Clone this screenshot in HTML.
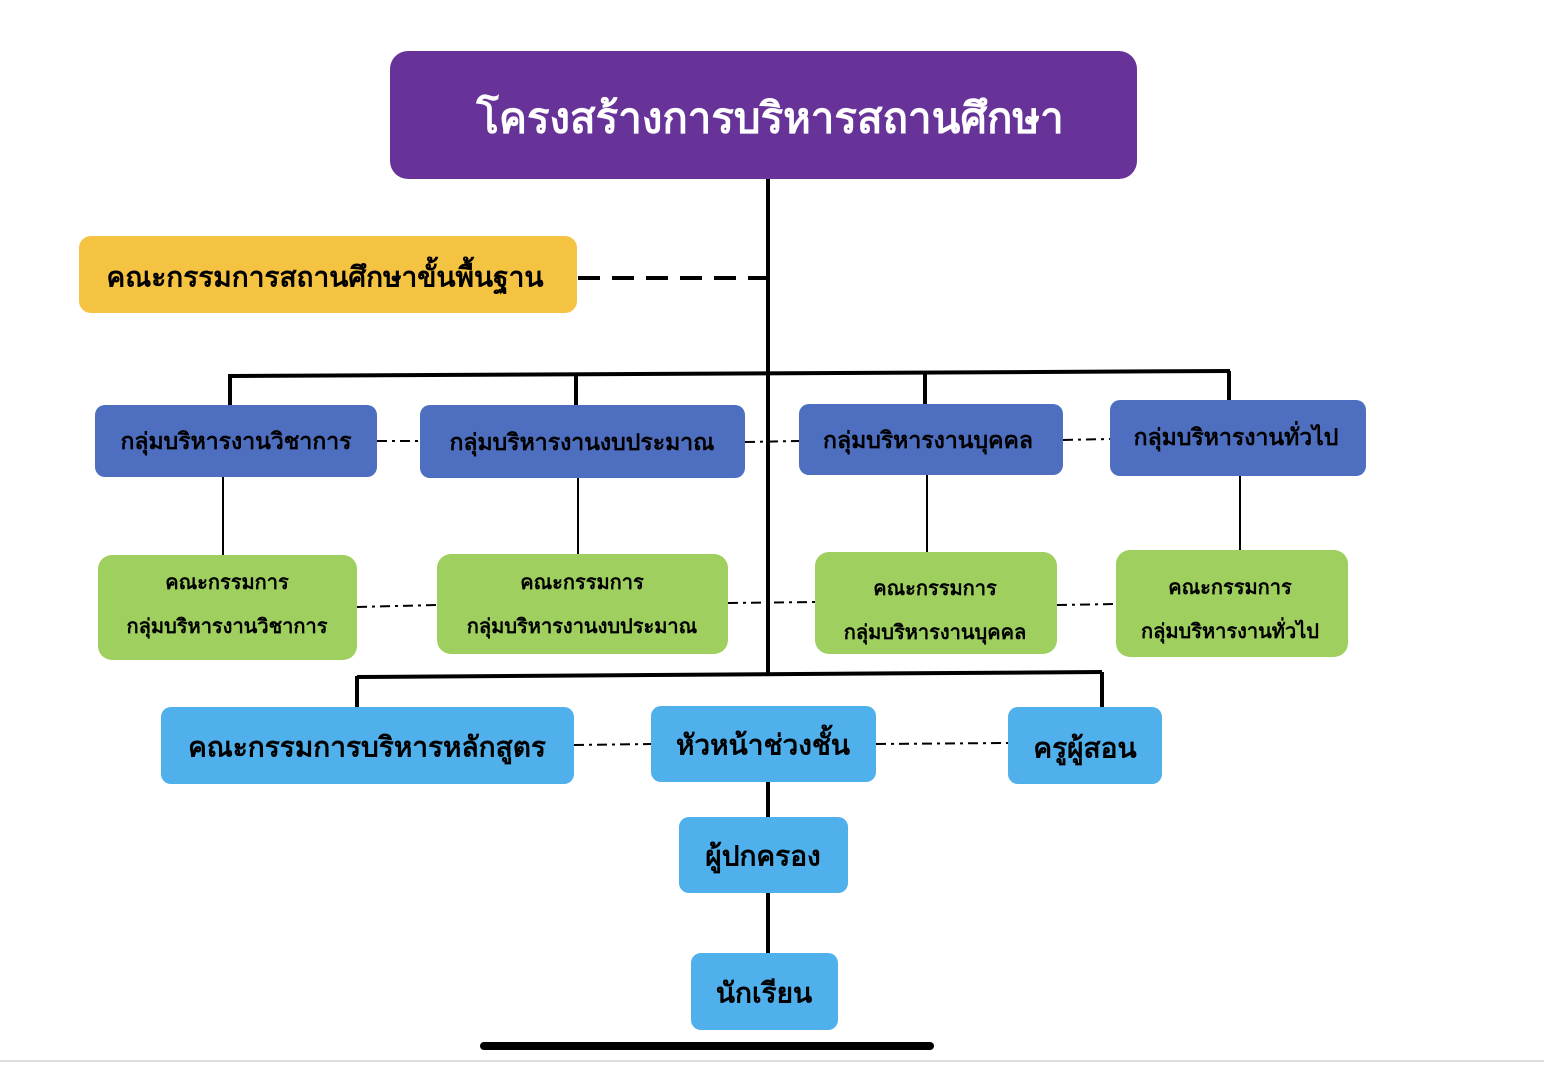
<!DOCTYPE html>
<html><head><meta charset="utf-8"><style>
html,body{margin:0;padding:0;background:#fff;}
svg text{font-family:"Liberation Sans","DejaVu Sans",sans-serif;font-weight:bold;text-anchor:middle;dominant-baseline:central;}
</style></head><body>
<svg width="1544" height="1062" viewBox="0 0 1544 1062" xmlns="http://www.w3.org/2000/svg">
<g stroke="#000" fill="none">
<line x1="768" y1="179" x2="768" y2="674" stroke-width="4"/>
<line x1="578" y1="278" x2="778" y2="278" stroke-width="4" stroke-dasharray="22,12"/>
<line x1="230" y1="376" x2="1230" y2="371" stroke-width="4"/>
<line x1="230" y1="374" x2="230" y2="405" stroke-width="4"/>
<line x1="576" y1="374" x2="576" y2="405" stroke-width="4"/>
<line x1="925" y1="373" x2="925" y2="404" stroke-width="4"/>
<line x1="1229" y1="371" x2="1229" y2="400" stroke-width="4"/>
<g stroke-width="2" stroke-dasharray="10,5,3,5">
<line x1="377" y1="441" x2="420" y2="441"/>
<line x1="745" y1="442" x2="799" y2="441"/>
<line x1="1063" y1="440" x2="1110" y2="439"/>
<line x1="357" y1="607" x2="437" y2="605"/>
<line x1="728" y1="603" x2="815" y2="602"/>
<line x1="1057" y1="605" x2="1116" y2="604"/>
<line x1="574" y1="745" x2="651" y2="744"/>
<line x1="876" y1="744" x2="1008" y2="743"/>
</g>
<g stroke-width="2">
<line x1="223" y1="477" x2="223" y2="555"/>
<line x1="578" y1="478" x2="578" y2="554"/>
<line x1="927" y1="475" x2="927" y2="552"/>
<line x1="1240" y1="476" x2="1240" y2="550"/>
</g>
<line x1="357" y1="677" x2="1102" y2="672" stroke-width="4"/>
<line x1="357" y1="676" x2="357" y2="707" stroke-width="4"/>
<line x1="1102" y1="672" x2="1102" y2="707" stroke-width="4"/>
<line x1="768" y1="782" x2="768" y2="817" stroke-width="4"/>
<line x1="768" y1="893" x2="768" y2="953" stroke-width="4"/>
</g>
<rect x="390" y="51" width="747" height="128" rx="18" fill="#673399"/>
<text x="770" y="118" font-size="42" fill="#fff">โครงสร้างการบริหารสถานศึกษา</text>
<rect x="79" y="236" width="498" height="77" rx="12" fill="#f5c342"/>
<text x="325" y="277" font-size="28" fill="#000">คณะกรรมการสถานศึกษาขั้นพื้นฐาน</text>
<g fill="#4e6ec0">
<rect x="95" y="405" width="282" height="72" rx="10"/>
<rect x="420" y="405" width="325" height="73" rx="10"/>
<rect x="799" y="404" width="264" height="71" rx="10"/>
<rect x="1110" y="400" width="256" height="76" rx="10"/>
</g>
<g font-size="23" fill="#000">
<text x="236" y="441">กลุ่มบริหารงานวิชาการ</text>
<text x="582" y="442">กลุ่มบริหารงานงบประมาณ</text>
<text x="928" y="440">กลุ่มบริหารงานบุคคล</text>
<text x="1236" y="437">กลุ่มบริหารงานทั่วไป</text>
</g>
<g fill="#9fcf5f">
<rect x="98" y="555" width="259" height="105" rx="14"/>
<rect x="437" y="554" width="291" height="100" rx="14"/>
<rect x="815" y="552" width="242" height="102" rx="14"/>
<rect x="1116" y="550" width="232" height="107" rx="14"/>
</g>
<g font-size="20" fill="#000">
<text x="227" y="583">คณะกรรมการ</text><text x="227" y="627">กลุ่มบริหารงานวิชาการ</text>
<text x="582" y="583">คณะกรรมการ</text><text x="582" y="627">กลุ่มบริหารงานงบประมาณ</text>
<text x="935" y="589">คณะกรรมการ</text><text x="935" y="633">กลุ่มบริหารงานบุคคล</text>
<text x="1230" y="588">คณะกรรมการ</text><text x="1230" y="632">กลุ่มบริหารงานทั่วไป</text>
</g>
<g fill="#4fb0ec">
<rect x="161" y="707" width="413" height="77" rx="10"/>
<rect x="651" y="706" width="225" height="76" rx="10"/>
<rect x="1008" y="707" width="154" height="77" rx="10"/>
<rect x="679" y="817" width="169" height="76" rx="10"/>
<rect x="691" y="953" width="147" height="77" rx="10"/>
</g>
<g font-size="28" fill="#000">
<text x="367" y="747">คณะกรรมการบริหารหลักสูตร</text>
<text x="763" y="745">หัวหน้าช่วงชั้น</text>
<text x="1085" y="748">ครูผู้สอน</text>
<text x="763" y="856">ผู้ปกครอง</text>
<text x="764" y="993">นักเรียน</text>
</g>
<line x1="484" y1="1046" x2="930" y2="1046" stroke="#000" stroke-width="8" stroke-linecap="round"/>
<line x1="0" y1="1061" x2="1544" y2="1061" stroke="#ddd" stroke-width="2"/>
</svg>
</body></html>
